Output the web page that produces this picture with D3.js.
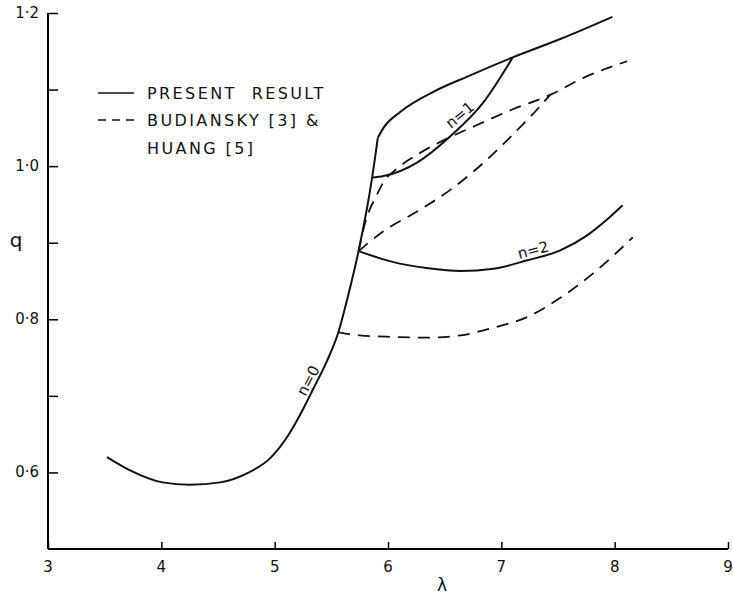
<!DOCTYPE html>
<html>
<head>
<meta charset="utf-8">
<script src="https://cdn.jsdelivr.net/npm/d3@7"></script>
<style>
  body { margin: 0; background: #fff; }
  svg { display: block; }
  text { font-family: "DejaVu Sans", sans-serif; fill: #111; }
</style>
</head>
<body>
<div id="chart"></div>
<script>
// axis ticks
const xTicks = [3, 4, 5, 6, 7, 8, 9];
const yTicks = [0.6, 0.7, 0.8, 0.9, 1.0, 1.1, 1.2];
const yTickLabels = {"0.6": "0·6", "0.8": "0·8", "1": "1·0", "1.2": "1·2"};

// present result (solid) - [lambda, q]
const presentN0 = [[3.52,0.620],[3.72,0.603],[4.01,0.587],[4.25,0.584],[4.52,0.587],[4.76,0.599],
  [4.97,0.620],[5.10,0.644],[5.22,0.674],[5.34,0.709],[5.46,0.745],[5.56,0.782],[5.65,0.832],
  [5.74,0.889],[5.86,0.985],[5.91,1.037]];
const presentUpper = [[5.91,1.037],[5.96,1.050],[6.11,1.071],[6.40,1.097],[6.70,1.117],
  [7.10,1.142],[7.52,1.166],[7.98,1.195]];
const presentN1 = [[5.86,0.985],[5.96,0.987],[6.26,1.005],[6.55,1.039],[6.84,1.083],[7.10,1.142]];
const presentN2 = [[5.74,0.889],[6.04,0.875],[6.34,0.867],[6.64,0.863],[6.93,0.866],[7.23,0.877],
  [7.52,0.890],[7.76,0.910],[7.93,0.930],[8.07,0.949]];

// Budiansky [3] & Huang [5] (dashed)
const budN1 = [[5.74,0.889],[5.80,0.927],[5.90,0.962],[5.96,0.979],[6.09,0.998],[6.28,1.017],
  [6.55,1.038],[6.79,1.054],[7.08,1.073],[7.43,1.093],[7.72,1.115],[8.11,1.137]];
const budA = [[5.74,0.889],[5.96,0.915],[6.26,0.941],[6.55,0.969],[6.84,1.004],[7.14,1.047],
  [7.31,1.073],[7.43,1.093]];
const budN2 = [[5.56,0.783],[5.75,0.779],[6.04,0.777],[6.34,0.776],[6.64,0.779],[6.93,0.789],
  [7.23,0.803],[7.52,0.828],[7.81,0.860],[8.16,0.907]];

const width = 733, height = 594;

const svg = d3.select('#chart')
  .append('svg')
  .attr('width', width)
  .attr('height', height);

// scales
const x = d3.scaleLinear().domain([3, 9]).range([48, 728]);
const y = d3.scaleLinear().domain([0.5, 1.2]).range([549, 13]);

// axes (ticks point inwards)
const xAxis = svg.append('g')
  .attr('transform', `translate(0, ${y(0.5)})`)
  .call(d3.axisTop(x).tickValues(xTicks).tickSize(7).tickFormat(''));
xAxis.select('.domain').attr('stroke-width', 2).attr('d', `M${x(3)},0H${x(9)}`);
xAxis.selectAll('.tick line').attr('stroke-width', 1.5);

svg.append('g')
  .selectAll('text')
  .data(xTicks)
  .enter()
  .append('text')
  .attr('x', d => x(d))
  .attr('y', y(0.5) + 23)
  .attr('text-anchor', 'middle')
  .style('font-size', '15px')
  .text(d => d);

const yAxis = svg.append('g')
  .attr('transform', `translate(${x(3)}, 0)`)
  .call(d3.axisRight(y).tickValues(yTicks).tickSize(10).tickFormat(''));
yAxis.select('.domain').attr('stroke-width', 2).attr('d', `M0,${y(1.2)}V${y(0.5)}`);
yAxis.selectAll('.tick line').attr('stroke-width', 1.5);

svg.append('g')
  .selectAll('text')
  .data(yTicks.filter(d => yTickLabels[String(d)]))
  .enter()
  .append('text')
  .attr('x', 39)
  .attr('y', d => y(d) + 5)
  .attr('text-anchor', 'end')
  .style('font-size', '15px')
  .text(d => yTickLabels[String(d)]);

// axis titles
svg.append('text')
  .attr('x', 16)
  .attr('y', y(0.9) + 4)
  .attr('text-anchor', 'middle')
  .style('font-size', '20px')
  .text('q');

svg.append('text')
  .attr('x', 442)
  .attr('y', 591)
  .attr('text-anchor', 'middle')
  .style('font-size', '17px')
  .text('λ');

// curves
const line = d3.line()
  .x(d => x(d[0]))
  .y(d => y(d[1]))
  .curve(d3.curveMonotoneX);

const curves = svg.append('g').attr('fill', 'none').attr('stroke', '#111');

[presentN0, presentUpper, presentN1, presentN2].forEach(s => {
  curves.append('path')
    .attr('d', line(s))
    .attr('stroke-width', 2);
});

[budN1, budA, budN2].forEach(s => {
  curves.append('path')
    .attr('d', line(s))
    .attr('stroke-width', 1.8)
    .attr('stroke-dasharray', '12,8');
});

// curve labels: baseline sits on the curve
function qAt(series, l) {
  for (let i = 1; i < series.length; i++) {
    const a = series[i - 1], b = series[i];
    if (l <= b[0]) return a[1] + (b[1] - a[1]) * (l - a[0]) / (b[0] - a[0]);
  }
  return series[series.length - 1][1];
}
const labels = [
  {t: 'n=0', s: presentN0, l: 5.36, rot: -63},
  {t: 'n=1', s: presentN1, l: 6.68, rot: -40},
  {t: 'n=2', s: presentN2, l: 7.30, rot: -15}
];
svg.append('g')
  .selectAll('text')
  .data(labels)
  .enter()
  .append('text')
  .attr('transform', d => `translate(${x(d.l)}, ${y(qAt(d.s, d.l))}) rotate(${d.rot})`)
  .attr('text-anchor', 'middle')
  .attr('dy', '-3')
  .style('font-size', '15px')
  .text(d => d.t);

// legend
const legend = svg.append('g');
legend.append('line')
  .attr('x1', 98).attr('x2', 134).attr('y1', 93).attr('y2', 93)
  .attr('stroke', '#111').attr('stroke-width', 1.5);
legend.append('line')
  .attr('x1', 98).attr('x2', 134).attr('y1', 120).attr('y2', 120)
  .attr('stroke', '#111').attr('stroke-width', 1.5)
  .attr('stroke-dasharray', '8,6');
const legendText = [
  {t: 'PRESENT  RESULT', yy: 93},
  {t: 'BUDIANSKY [3] &', yy: 120},
  {t: 'HUANG [5]', yy: 148}
];
legend.selectAll('text')
  .data(legendText)
  .enter()
  .append('text')
  .attr('x', 147)
  .attr('y', d => d.yy + 6)
  .style('font-size', '16px')
  .style('letter-spacing', '2.4px')
  .style('white-space', 'pre')
  .text(d => d.t);
</script>
</body>
</html>
